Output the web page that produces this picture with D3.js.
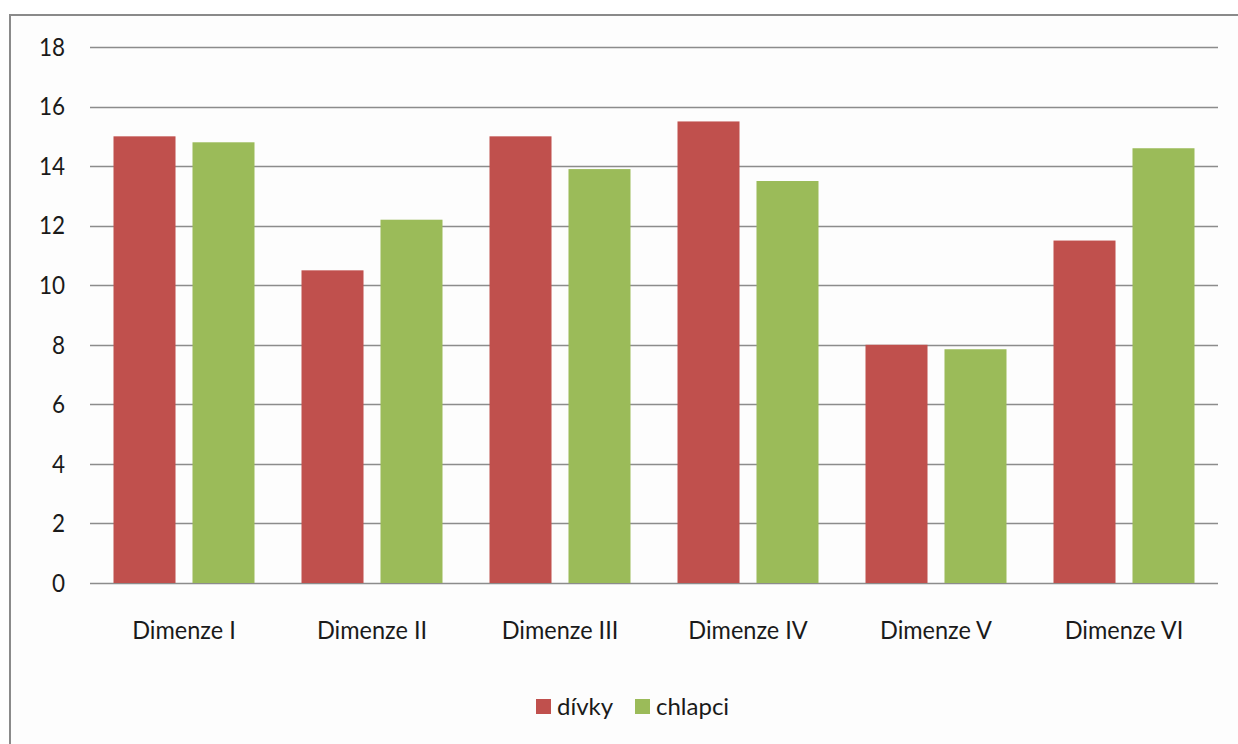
<!DOCTYPE html>
<html>
<head>
<meta charset="utf-8">
<script src="https://cdn.jsdelivr.net/npm/d3@7"></script>
<style>
  html, body { margin: 0; padding: 0; background: #ffffff; }
  svg { display: block; }
  text { font-family: Lato, "Open Sans", sans-serif; fill: #1a1a1a; }
</style>
</head>
<body>
<svg id="chart" width="1238" height="744"></svg>
<script>
// Category labels and series values
const categories = ["Dimenze I", "Dimenze II", "Dimenze III", "Dimenze IV", "Dimenze V", "Dimenze VI"];
const seriesNames = ["dívky", "chlapci"];
const divky   = [15, 10.5, 15, 15.5, 8, 11.5];
const chlapci = [14.8, 12.2, 13.9, 13.5, 7.85, 14.6];
const yTicks  = [0, 2, 4, 6, 8, 10, 12, 14, 16, 18];
const colors  = ["#C0504D", "#9BBB59"];

const series = [divky, chlapci];
const svg = d3.select("#chart");

// Outer chart frame
svg.append("rect")
  .attr("x", 10).attr("y", 15)
  .attr("width", 1300).attr("height", 800)
  .attr("fill", "#fdfdfd")
  .attr("stroke", "#8a8a8a").attr("stroke-width", 2);

const plot = { left: 90, right: 1218, top: 47, bottom: 583 };

const x = d3.scaleBand()
  .domain(categories)
  .range([plot.left, plot.right]);

// Position of the two bars inside each category
const xInner = d3.scaleBand()
  .domain(seriesNames)
  .range([-70.5, 70.5])
  .paddingInner(0.215)
  .paddingOuter(0);

const y = d3.scaleLinear()
  .domain([0, 18])
  .range([plot.bottom, plot.top]);

// Horizontal gridlines
svg.append("g")
  .selectAll("line")
  .data(yTicks)
  .join("line")
  .attr("x1", plot.left).attr("x2", plot.right)
  .attr("y1", d => Math.round(y(d)) + 0.5)
  .attr("y2", d => Math.round(y(d)) + 0.5)
  .attr("stroke", "#8c8c8c").attr("stroke-width", 1.3);

// Y axis labels
const yAxis = d3.axisLeft(y).tickValues(yTicks).tickSize(0).tickPadding(0);
const yg = svg.append("g")
  .attr("transform", `translate(65,0)`)
  .call(yAxis);
yg.select(".domain").remove();
yg.selectAll("text")
  .attr("font-size", 22.5)
  .attr("font-family", "Lato, sans-serif")
  .attr("fill", "#1a1a1a")
  .attr("dy", "0.33em")
  .attr("transform", "scale(1,1.11)");

// Bars
series.forEach((vals, si) => {
  svg.append("g")
    .selectAll("rect")
    .data(vals)
    .join("rect")
    .attr("x", (d, i) => x(categories[i]) + x.bandwidth() / 2 + xInner(seriesNames[si]))
    .attr("width", xInner.bandwidth())
    .attr("y", d => y(d))
    .attr("height", d => y(0) - y(d))
    .attr("fill", colors[si]);
});

// X axis category labels
const xAxis = d3.axisBottom(x).tickSize(0).tickPadding(0);
const xg = svg.append("g")
  .attr("transform", `translate(0,${plot.bottom})`)
  .call(xAxis);
xg.select(".domain").remove();
xg.selectAll("text")
  .attr("font-size", 23.5)
  .attr("font-family", "Lato, sans-serif")
  .attr("fill", "#1a1a1a")
  .attr("dy", 0)
  .attr("transform", "translate(0,56) scale(1,1.09)");

// Legend
const legend = svg.append("g").attr("transform", "translate(536,699)");
const legendOffsets = [0, 99];
seriesNames.forEach((name, i) => {
  const g = legend.append("g").attr("transform", `translate(${legendOffsets[i]},0)`);
  g.append("rect").attr("width", 15).attr("height", 15).attr("fill", colors[i]);
  g.append("text")
    .attr("x", 21).attr("y", 16)
    .attr("font-size", 24)
    .text(name);
});
</script>
</body>
</html>
